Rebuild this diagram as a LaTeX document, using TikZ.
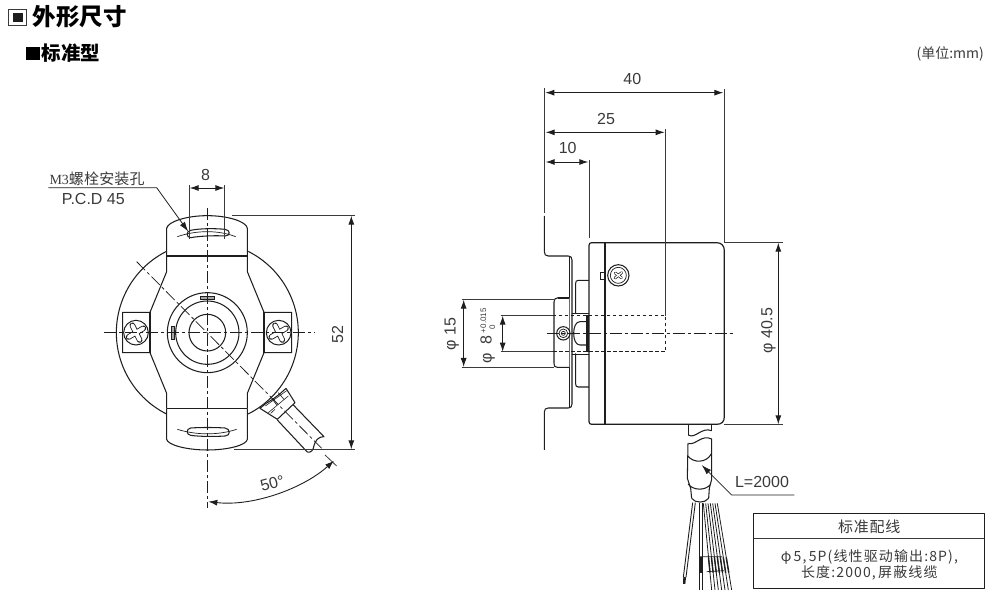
\documentclass[tikz,border=0pt]{standalone}
\usepackage{fontspec}
\setmainfont{Liberation Sans}
\newfontfamily\cjk{Noto Sans CJK SC}
\newfontfamily\lser{Liberation Serif}
\usetikzlibrary{arrows.meta}
\definecolor{ink}{HTML}{1E1E1E}
\definecolor{txt}{HTML}{3A3A3A}
\tikzset{
  body/.style={draw=ink,line width=1.05pt,line join=round},
  thin line/.style={draw=ink,line width=0.7pt},
  ext/.style={draw=txt,line width=0.8pt},
  dim/.style={draw=ink,line width=0.9pt,{Latex[length=9pt,width=6pt]}-{Latex[length=9pt,width=6pt]}},
  lead/.style={draw=ink,line width=0.8pt,-{Latex[length=10pt,width=6pt]}},
  cl/.style={draw=ink,line width=0.75pt,dash pattern=on 12pt off 3pt on 3pt off 3pt},
  hid/.style={draw=ink,line width=0.75pt,dash pattern=on 3.5pt off 2.5pt},
  lab/.style={text=txt,font=\fontsize{16}{16}\selectfont,inner sep=0pt},
  cjklab/.style={text=txt,inner sep=0pt,align=center},
  zoomed/.style={scale=1/3}
}
\newcommand{\screwhead}[2]{%
  \draw[thin line,line width=1pt,fill=white] (#1,#2) circle[radius=37];
  \draw[line width=5.6pt,draw=ink,line cap=round] (#1-22,#2+13)--(#1+22,#2-13) (#1-11,#2-22)--(#1+11,#2+22);
  \draw[line width=3.9pt,draw=white,line cap=round] (#1-22,#2+13)--(#1+22,#2-13) (#1-11,#2-22)--(#1+11,#2+22);
}
\begin{document}
\begin{tikzpicture}[x=1pt,y=-1pt]
\useasboundingbox (0,0) rectangle (1002,607);
% titles
\draw[draw=txt,line width=0.8pt,fill=white] (8.5,9.5) rectangle (26.5,25.5);
\fill[ink] (13,13.5) rectangle (22.5,22);
\node[anchor=west,inner sep=0pt,text=black] (title) at (32.5,17) {\cjk\bfseries\fontsize{23.5}{24}\selectfont 外形尺寸};
\fill[black] (26,47) rectangle (40,60.5);
\node[anchor=west,inner sep=0pt,text=black] (subtitle) at (41.5,53.5) {\cjk\bfseries\fontsize{19.5}{20}\selectfont 标准型};
\node[cjklab,anchor=east] (unit) at (984,54) {\cjk\fontsize{14}{14}\selectfont (单位:mm)};

% ---------- front view ----------
\begin{scope}[shift={(40,150)},zoomed]
  \draw[body] plot[domain=243.3:116.7,samples=50] ({502+273*cos(\x)},{548+273*sin(\x)});
  \draw[body] plot[domain=-63.3:63.3,samples=50] ({502+273*cos(\x)},{548+273*sin(\x)});
  % bracket
  \draw[body] (380,318)--(380,235) .. controls (383,215) and (440,197) .. (502,197) .. controls (565,197) and (620,215) .. (622,235)--(622,318);
  \draw[body] (380,775)--(380,868) .. controls (383,885) and (440,900) .. (502,900) .. controls (565,900) and (620,885) .. (622,868)--(622,775);
  \draw[body] (380,318)--(622,318) (380,775)--(622,775);
  \draw[body] (380,318)--(380,365)--(330,487)--(248,487)--(248,608)--(330,608)--(380,730)--(380,775);
  \draw[body] (622,318)--(622,365)--(672,487)--(755,487)--(755,608)--(672,608)--(622,730)--(622,775);
  \draw[body] (330,487)--(330,608) (672,487)--(672,608);
  \screwhead{288}{548}
  \screwhead{716}{548}
  % hub
  \draw[body] (502,548) circle[radius=120];
  \draw[body] (502,548) circle[radius=95];
  \draw[body] (502,548) circle[radius=55];
  \draw[thin line,fill=gray!70] (480,439) rectangle (522,449);
  \draw[thin line,fill=gray!70] (393,528) rectangle (402,568);
  % slots
  \draw[body] (452,241) .. controls (480,235) and (525,235) .. (555,238) .. controls (572,240) and (572,258) .. (555,258) .. controls (525,256) and (480,258) .. (452,263) .. controls (438,263) and (438,243) .. (452,241);
  \draw[thin line] (412,260) .. controls (470,240) and (535,240) .. (587,260);
  \draw[body] (452,834) .. controls (480,832) and (525,832) .. (555,834) .. controls (572,836) and (572,858) .. (555,858) .. controls (525,860) and (480,860) .. (452,856) .. controls (438,854) and (438,836) .. (452,834);
  \draw[thin line] (412,838) .. controls (470,856) and (535,856) .. (590,838);
  % cable
  \begin{scope}[shift={(630,690)}]
    \draw[body,fill=white] (108,25)--(135,68)--(82,118)--(30,85)--(48,70) .. controls (70,58) and (90,42) .. (108,25);
    \draw[thin line,line width=0.6pt] (46,78)--(110,32) (62,50)--(80,75) (85,38)--(102,58) (55,98)--(115,48) (62,100)--(75,88);
    \draw[body] (130,75)--(222,170) .. controls (205,170) and (195,180) .. (190,205) .. controls (186,218) and (172,220) .. (168,212)--(82,120);
  \end{scope}
  % centre lines
  \draw[cl] (502,175)--(502,1075);
  \draw[cl] (192,548)--(825,548);
  \draw[cl] (290,335)--(845,895);
  % dimensions
  \draw[ext] (449,105)--(449,268) (553,105)--(553,268);
  \draw[dim] (449,114)--(553,114);
  \node[lab] (d8) at (497,74) {8};
  \draw[ext] (577,197)--(945,197) (582,898)--(945,898);
  \draw[dim] (934,197)--(934,898);
  \node[lab,rotate=90] (d52) at (893,553) {52};
  \draw[ext] (855,915)--(890,948);
  \draw[dim] (505,1055) .. controls (640,1070) and (790,1015) .. (882,932);
  \node[lab,rotate=15] (d50) at (697,1000) {50°};
  \draw[lead] (25,113)--(350,113)--(445,245);
  \node[cjklab,anchor=west] (m3) at (28,85) {\lser\fontsize{14}{14}\selectfont M3\cjk\fontsize{15}{15}\selectfont\addfontfeatures{LetterSpace=1}螺栓安装孔};
  \node[lab] (pcd) at (160,148) {P.C.D 45};
\end{scope}

% ---------- side view ----------
\begin{scope}[shift={(430,200)},zoomed]
  % panel
  \draw[body] (343,48)--(343,155) .. controls (343,164) and (347,168) .. (355,168)--(415,168) .. controls (422,168) and (426,172) .. (426,180)--(426,612) .. controls (426,620) and (422,624) .. (415,624)--(355,624) .. controls (347,624) and (343,628) .. (343,636)--(343,750);
  \draw[thin line] (418,172)--(418,620);
  % flange
  \draw[body] (477,241)--(445,241) .. controls (439,241) and (437,244) .. (437,250)--(437,340);
  \draw[body] (477,561)--(445,561) .. controls (439,561) and (437,558) .. (437,552)--(437,460);
  % hub
  \draw[body,fill=white] (418,293)--(385,293) .. controls (376,293) and (372,298) .. (372,306)--(372,490) .. controls (372,498) and (374,502) .. (382,502)--(418,502);
  \draw[thin line,line width=1.4pt] (385,296)--(418,296);
  % body
  \draw[body,line width=1.2pt,fill=white] (485,128)--(860,128) .. controls (875,128) and (883,138) .. (883,152)--(883,650) .. controls (883,665) and (875,673) .. (860,673)--(485,673) .. controls (480,673) and (477,670) .. (477,665)--(477,136) .. controls (477,131) and (480,128) .. (485,128);
  \draw[body] (525,128)--(525,673);
  % shaft
  \draw[thin line] (425,340)--(477,340) (425,462)--(477,462);
  \fill[ink] (468,345) rectangle (477,455);
  \draw[body] (470,365)--(450,365) .. controls (438,365) and (431,380) .. (431,400) .. controls (431,420) and (438,435) .. (450,435)--(470,435);
  % set screw
  \draw[body,fill=white] (400,400) circle[radius=20];
  \draw[thin line] (400,400) circle[radius=13];
  \draw[thin line] (400,400) circle[radius=6];
  % small screw
  \draw[body] (511,238)--(511,218)--(527,218) (511,238)--(527,238);
  \draw[body,fill=white] (565,226) circle[radius=32];
  \draw[thin line] (565,226) circle[radius=24];
  \draw[line width=2.8pt,draw=ink,line cap=round] (555,234)--(575,218) (556,219)--(574,233);
  \draw[line width=1.4pt,draw=white,line cap=round] (555,234)--(575,218) (556,219)--(574,233);
  % hidden and centre
  \draw[hid] (368,347)--(707,347)--(707,455)--(368,455);
  \draw[ext] (212,347)--(368,347) (212,455)--(368,455);
  \draw[cl] (350,400)--(910,400);
  % dimensions
  \draw[ext] (342,-335)--(342,40) (882,-332)--(882,128);
  \draw[dim] (346,-322)--(880,-322);
  \node[lab] (d40) at (607,-362) {40};
  \draw[ext] (706,-212)--(706,347);
  \draw[dim] (347,-203)--(704,-203);
  \node[lab] (d25) at (528,-243) {25};
  \draw[ext] (477,-120)--(477,115);
  \draw[dim] (347,-114)--(475,-114);
  \node[lab] (d10) at (413,-155) {10};
  \draw[ext] (883,128)--(1058,128) (883,673)--(1058,673);
  \draw[dim] (1045,128)--(1045,673);
  \node[lab,rotate=90] (dD) at (1015,392) {φ 40.5};
  \draw[ext] (95,299)--(372,299) (95,501)--(372,501);
  \draw[dim] (101,299)--(101,501);
  \node[lab,rotate=90] (d15) at (65,402) {φ 15};
  \draw[dim] (218,347)--(218,455);
  \node[lab,rotate=90] (d8b) at (173,449) {φ\ \ 8};
  \node[cjklab,rotate=90,font=\fontsize{8}{8}\selectfont] (tolp) at (160,362) {+0.015};
  \node[cjklab,rotate=90,font=\fontsize{8}{8}\selectfont] (tolm) at (187,382) {0};

  % ---------- cable and table, zoom-3 frame ----------
  \begin{scope}[shift={(690,660)}]
    \draw[body] (85,14)--(85,45) (155,14)--(155,32);
    \draw[body] (85,45) .. controls (105,58) and (125,20) .. (155,32);
    \draw[body] (85,70) .. controls (105,78) and (125,42) .. (155,57);
    \draw[body] (84,70)--(82,175)--(92,205)--(95,235) (155,57)--(155,178)--(148,205)--(146,235);
    \draw[body] (84,108) .. controls (100,130) and (140,130) .. (155,100);
    \draw[body] (84,192) .. controls (100,212) and (135,212) .. (150,195);
    \draw[body] (95,235) .. controls (105,250) and (135,250) .. (146,235);
    % wires
    \draw[thin line,line width=0.9pt] (98,248)--(70,472) (106,248)--(78,472);
    \fill[ink] (70,470)--(78,472)--(76,492)--(69,492)--cycle;
    \draw[thin line,line width=0.9pt] (118,248)--(118,510) (128,248)--(128,510);
    \fill[ink] (120,412) rectangle (126,460);
    \foreach \a/\b in {130/155,137/165,144/175,151/185,158/195,165/205,172/215}{
      \draw[thin line,line width=0.8pt] (\a,250)--(\b,510);
      \draw[draw=ink,line width=1.4pt] ({\a+(\b-\a)*0.62},412)--({\a+(\b-\a)*0.8},458);
    }
    \draw[thin line] (118,410)--(186,410) (140,455)--(192,452);
    % L
    \draw[lead] (403,225)--(215,225)--(125,135);
    \node[lab] (lL) at (306,185) {L=2000};
    % table
    \draw[body,line width=0.9pt] (281,281) rectangle (973,505);
    \draw[ext,line width=1pt] (281,357)--(973,357);
    \node[cjklab] (th) at (628,320) {\cjk\addfontfeatures{LetterSpace=5}\fontsize{15}{15}\selectfont 标准配线};
    \node[cjklab] (t1) at (628,412) {\cjk\addfontfeatures{LetterSpace=8}\fontsize{14}{14}\selectfont φ\,5,\,5P(线性驱动输出:8P),};
    \node[cjklab] (t2) at (628,460) {\cjk\addfontfeatures{LetterSpace=8}\fontsize{14}{14}\selectfont 长度:2000,\,屏蔽线缆};
  \end{scope}
\end{scope}
\end{tikzpicture}
\end{document}
